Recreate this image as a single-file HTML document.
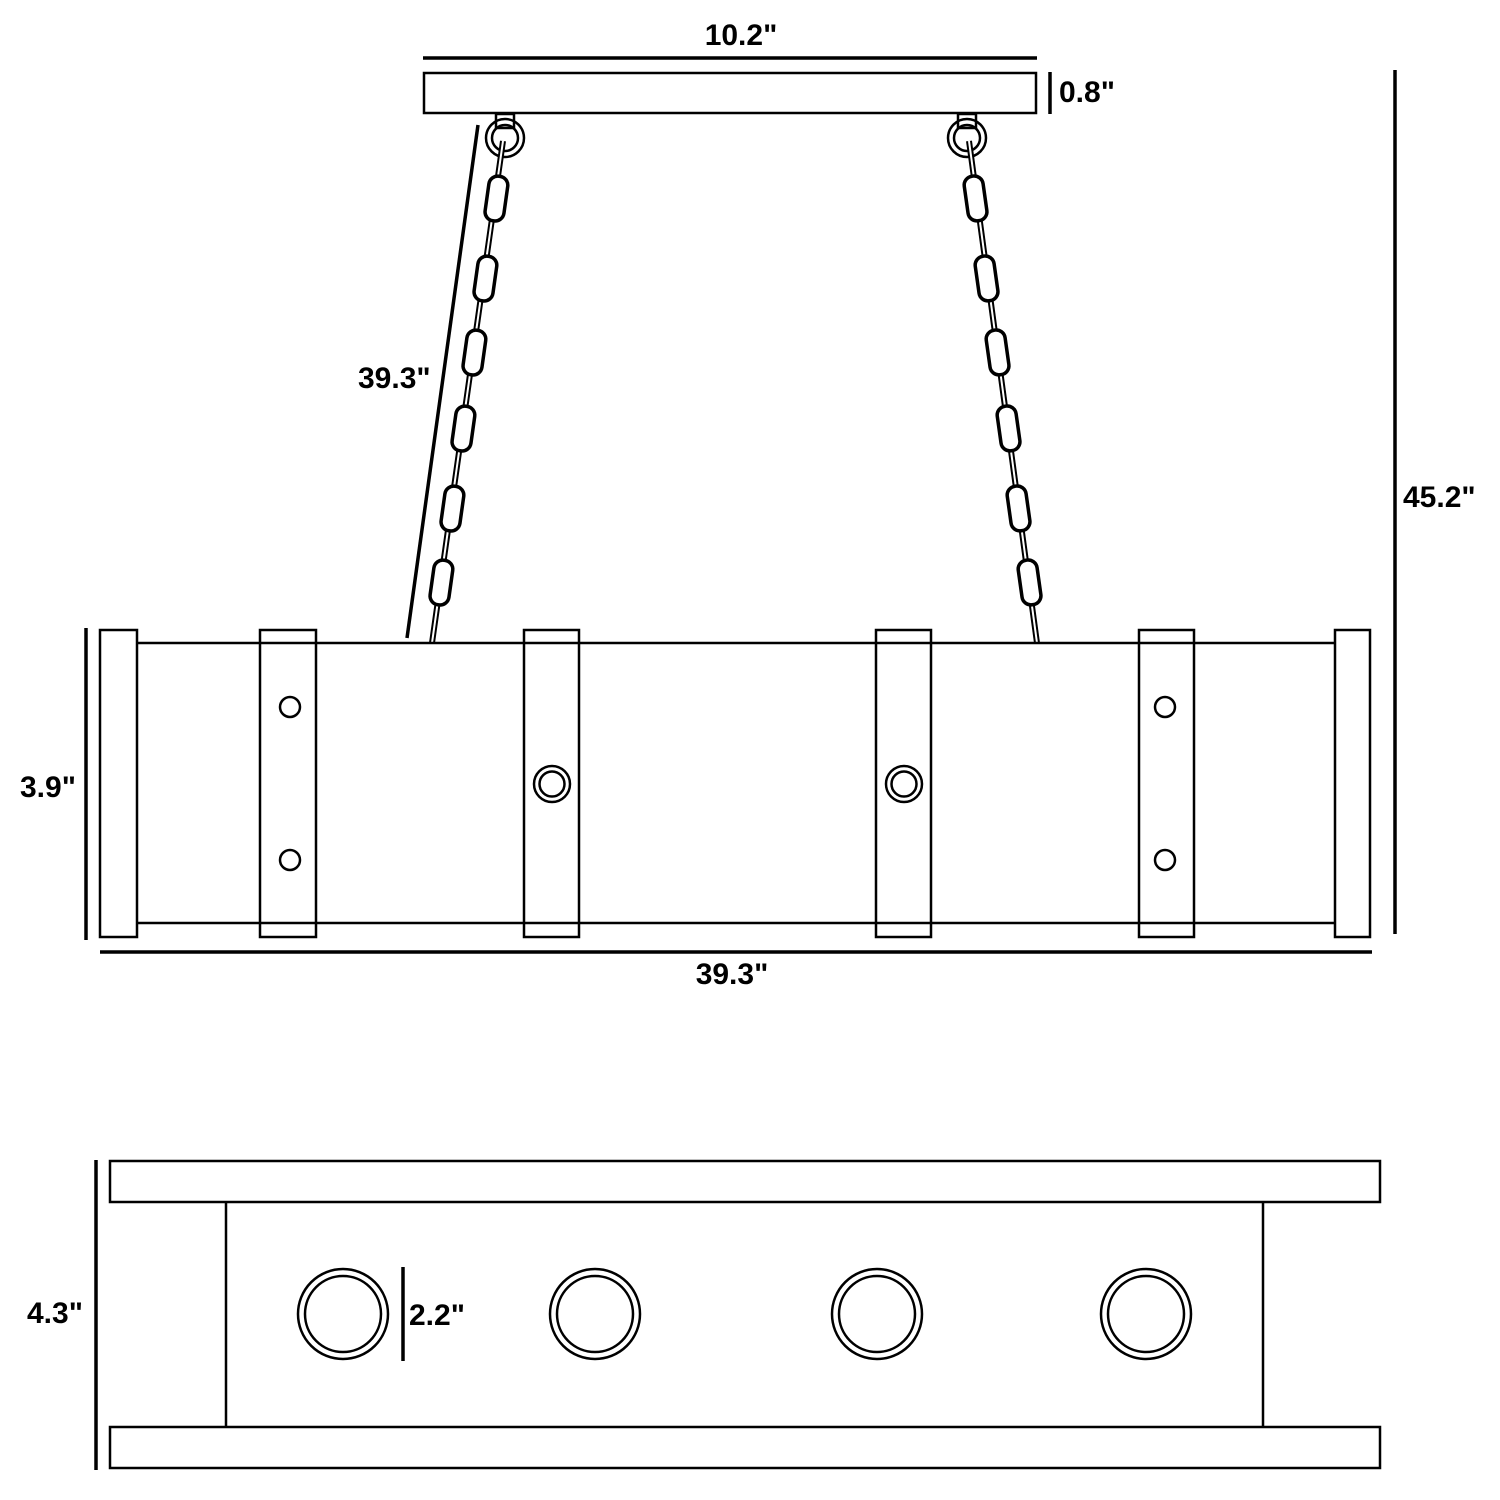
<!DOCTYPE html>
<html><head><meta charset="utf-8"><style>html,body{margin:0;padding:0;background:#fff}svg{display:block}text{font-family:"Liberation Sans",sans-serif;font-weight:bold;font-size:30px;fill:#000}</style></head>
<body>
<svg width="1500" height="1500" viewBox="0 0 1500 1500" xmlns="http://www.w3.org/2000/svg">
<g fill="none" stroke="#000" stroke-width="2.5">
<!-- canopy -->
<line x1="423" y1="58" x2="1037" y2="58" stroke-width="3.5"/>
<rect x="424" y="73" width="612" height="40"/>
<line x1="1050" y1="72" x2="1050" y2="114" stroke-width="3.5"/>
<line x1="1395" y1="70" x2="1395" y2="934" stroke-width="3.5"/>
<!-- left chain -->
<line x1="478" y1="125" x2="407" y2="638" stroke-width="3.5"/>
<rect x="496" y="114" width="18" height="14"/>
<circle cx="505" cy="138" r="19"/><circle cx="505" cy="138" r="13"/>
<line x1="503" y1="141" x2="432" y2="643" stroke-width="6"/>
<line x1="503" y1="141" x2="432" y2="643" stroke="#fff" stroke-width="2"/>
<g stroke-width="3.5" fill="#fff">
<rect x="487" y="176" width="19" height="45" rx="9" transform="rotate(8 496 198)"/>
<rect x="476" y="256" width="19" height="45" rx="9" transform="rotate(8 485 278)"/>
<rect x="465" y="330" width="19" height="45" rx="9" transform="rotate(8 474 352)"/>
<rect x="454" y="406" width="19" height="45" rx="9" transform="rotate(8 463 428)"/>
<rect x="443" y="486" width="19" height="45" rx="9" transform="rotate(8 452 508)"/>
<rect x="432" y="560" width="19" height="45" rx="9" transform="rotate(8 441 582)"/>
</g>
<!-- right chain -->
<rect x="958" y="114" width="18" height="14"/>
<circle cx="967" cy="138" r="19"/><circle cx="967" cy="138" r="13"/>
<line x1="969" y1="141" x2="1037" y2="643" stroke-width="6"/>
<line x1="969" y1="141" x2="1037" y2="643" stroke="#fff" stroke-width="2"/>
<g stroke-width="3.5" fill="#fff">
<rect x="966" y="176" width="19" height="45" rx="9" transform="rotate(-8 975 198)"/>
<rect x="977" y="256" width="19" height="45" rx="9" transform="rotate(-8 986 278)"/>
<rect x="988" y="330" width="19" height="45" rx="9" transform="rotate(-8 997 352)"/>
<rect x="999" y="406" width="19" height="45" rx="9" transform="rotate(-8 1008 428)"/>
<rect x="1009" y="486" width="19" height="45" rx="9" transform="rotate(-8 1018 508)"/>
<rect x="1020" y="560" width="19" height="45" rx="9" transform="rotate(-8 1029 582)"/>
</g>
<!-- front view body -->
<line x1="86" y1="628" x2="86" y2="940" stroke-width="3.5"/>
<line x1="100" y1="952" x2="1372" y2="952" stroke-width="3.5"/>
<line x1="137" y1="643" x2="1335" y2="643"/>
<line x1="137" y1="923" x2="1335" y2="923"/>
<rect x="100" y="630" width="37" height="307"/>
<rect x="1335" y="630" width="35" height="307"/>
<rect x="260" y="630" width="56" height="307"/>
<rect x="524" y="630" width="55" height="307"/>
<rect x="876" y="630" width="55" height="307"/>
<rect x="1139" y="630" width="55" height="307"/>
<circle cx="290" cy="707" r="10"/><circle cx="290" cy="860" r="10"/>
<circle cx="1165" cy="707" r="10"/><circle cx="1165" cy="860" r="10"/>
<circle cx="552" cy="784" r="18"/><circle cx="552" cy="784" r="12.5"/>
<circle cx="904" cy="784" r="18"/><circle cx="904" cy="784" r="12.5"/>
<!-- bottom view -->
<line x1="96" y1="1160" x2="96" y2="1470" stroke-width="3.5"/>
<rect x="110" y="1161" width="1270" height="41"/>
<rect x="110" y="1427" width="1270" height="41"/>
<line x1="226" y1="1202" x2="226" y2="1427"/>
<line x1="1263" y1="1202" x2="1263" y2="1427"/>
<line x1="403" y1="1267" x2="403" y2="1361" stroke-width="3.5"/>
<circle cx="343" cy="1314" r="45"/><circle cx="343" cy="1314" r="38"/>
<circle cx="595" cy="1314" r="45"/><circle cx="595" cy="1314" r="38"/>
<circle cx="877" cy="1314" r="45"/><circle cx="877" cy="1314" r="38"/>
<circle cx="1146" cy="1314" r="45"/><circle cx="1146" cy="1314" r="38"/>
</g>
<text x="741" y="45" text-anchor="middle">10.2"</text>
<text x="1059" y="102">0.8"</text>
<text x="1403" y="507">45.2"</text>
<text x="358" y="388">39.3"</text>
<text x="20" y="797">3.9"</text>
<text x="732" y="984" text-anchor="middle">39.3"</text>
<text x="27" y="1323">4.3"</text>
<text x="409" y="1325">2.2"</text>
</svg>
</body></html>
